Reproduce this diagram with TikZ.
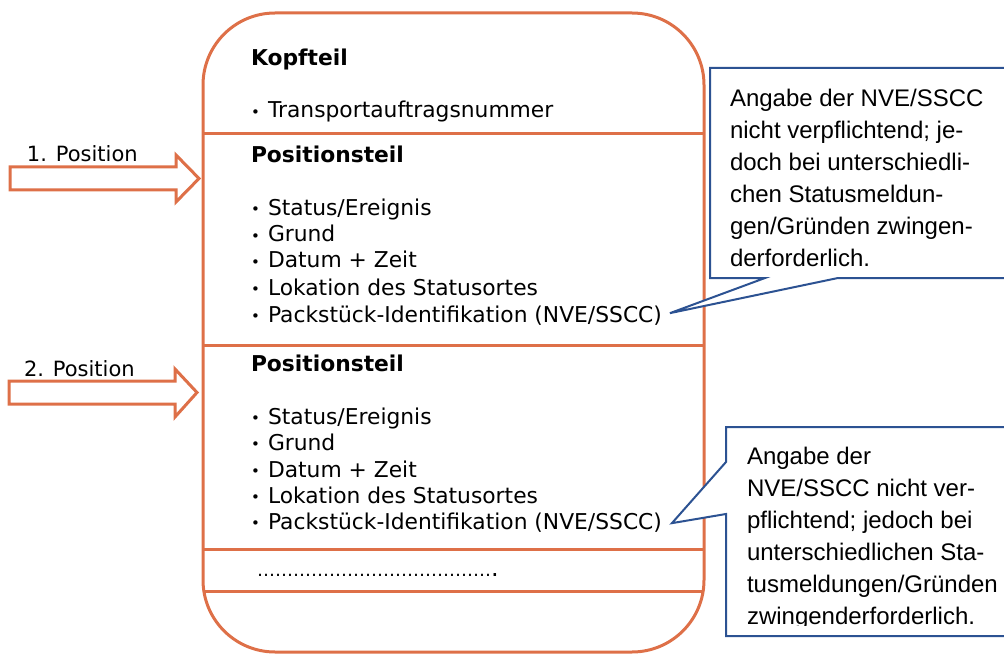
\documentclass[tikz,border=0pt]{standalone}
\usepackage{fontspec}
\setmainfont{DejaVu Sans}
\newfontfamily\calloutfont{Liberation Sans}
\definecolor{frameorange}{RGB}{222,112,72}
\definecolor{noteblue}{RGB}{44,82,146}
\newcommand{\itembullet}{\makebox[17pt][l]{\raisebox{0.5pt}{\fontsize{15}{15}\selectfont •}}}

\begin{document}
\begin{tikzpicture}[x=1pt,y=-1pt,
  every node/.style={inner sep=0pt, outer sep=0pt},
  item/.style={anchor=base west, font=\fontsize{21.8}{25}\selectfont},
  title/.style={anchor=base west, font=\bfseries\fontsize{21.8}{25}\selectfont},
  poslabel/.style={anchor=base west, font=\fontsize{21}{25}\selectfont},
  frame/.style={draw=frameorange, line width=3pt, rounded corners=72pt},
  divider/.style={draw=frameorange, line width=3pt},
  blockarrow/.style={draw=frameorange, line width=3pt, fill=white, line join=miter},
  callout/.style={draw=noteblue, line width=2pt, fill=white, line join=miter},
  note/.style={anchor=base west, font=\calloutfont\fontsize{24}{30}\selectfont},
]
\useasboundingbox (0,0) rectangle (1004,655);
\clip (0,0) rectangle (1004,655);

% message frame with its sections
\node[frame, anchor=north west, minimum width=501pt, minimum height=639pt] (msg) at (203,13) {};
\draw[divider] (msg.west |- 0,134) -- (msg.east |- 0,134);
\draw[divider] (msg.west |- 0,345) -- (msg.east |- 0,345);
\draw[divider] (msg.west |- 0,549) -- (msg.east |- 0,549);
\draw[divider] (msg.west |- 0,591) -- (msg.east |- 0,591);

% header part
\node[title] (kopf) at (251,66) {Kopfteil};
\node[item] (tan) at (251,118) {\itembullet Transportauftragsnummer};

% first position part
\node[title] (pos1) at (251,163) {Positionsteil};
\node[item] (s1) at (251,215) {\itembullet Status/Ereignis};
\node[item] (g1) at (251,242) {\itembullet Grund};
\node[item] (d1) at (251,268) {\itembullet Datum + Zeit};
\node[item] (l1) at (251,295) {\itembullet Lokation des Statusortes};
\node[item] (p1) at (251,322) {\itembullet Packstück-Identifikation (NVE/SSCC)};

% second position part
\node[title] (pos2) at (251,371) {Positionsteil};
\node[item] (s2) at (251,424) {\itembullet Status/Ereignis};
\node[item] (g2) at (251,450) {\itembullet Grund};
\node[item] (d2) at (251,477) {\itembullet Datum + Zeit};
\node[item] (l2) at (251,503) {\itembullet Lokation des Statusortes};
\node[item] (p2) at (251,529) {\itembullet Packstück-Identifikation (NVE/SSCC)};

% continuation
\node[anchor=base west] (more) at (257,576) {{\fontsize{18}{20}\selectfont …………………………………}{\fontsize{24}{25}\selectfont .}};

% incoming positions
\draw[blockarrow] (10,167) -- (176,167) -- (176,155) -- (199,178.5) -- (176,202) -- (176,190) -- (10,190) -- cycle;
\node[poslabel] (lab1) at (27,162) {1. Position};
\draw[blockarrow] (9,381) -- (175,381) -- (175,369) -- (197,392.5) -- (175,417) -- (175,404) -- (9,404) -- cycle;
\node[poslabel] (lab2) at (24,376) {2. Position};

% callout to the first package id
\coordinate (tip1) at ([shift={(8,-2)}]p1.east);
\draw[callout] (710,68) -- (1010,68) -- (1010,278) -- (838,278) -- (tip1) -- (765,278) -- (710,278) -- cycle;
\foreach \t [count=\i from 0] in {Angabe der NVE/SSCC, nicht verpflichtend; je-, doch bei unterschiedli-, chen Statusmeldun-, gen/Gründen zwingen-, derforderlich.}
  \node[note] (na\i) at (730,107+31.8*\i) {\t};

% callout to the second package id
\coordinate (tip2) at ([shift={(10,1)}]p2.east);
\draw[callout] (726,427) -- (1010,427) -- (1010,636) -- (726,636) -- (726,514) -- (tip2) -- (726,462) -- cycle;
\begin{scope}
  \clip (726,427) rectangle (1010,625.5);
  \foreach \t [count=\i from 0] in {Angabe der, NVE/SSCC nicht ver-, pflichtend; jedoch bei, unterschiedlichen Sta-, tusmeldungen/Gründen, zwingenderforderlich.}
    \node[note] (nb\i) at (747,464+32*\i) {\t};
\end{scope}
\end{tikzpicture}
\end{document}
